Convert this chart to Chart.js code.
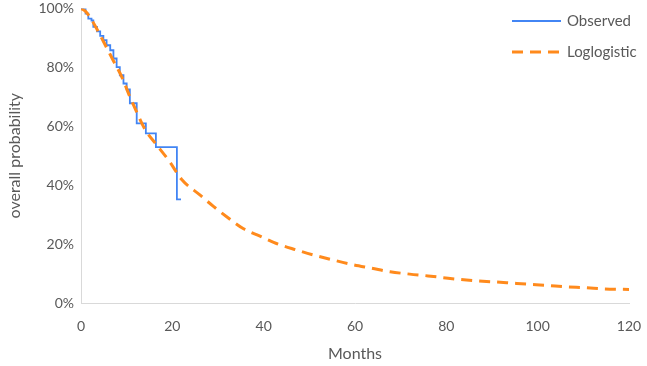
<!DOCTYPE html>
<html>
<head>
<meta charset="utf-8">
<script src="https://cdn.jsdelivr.net/npm/chart.js@4/dist/chart.umd.min.js"></script>
<style>
  body { margin: 0; background: #fff; }
  #wrap { width: 647px; height: 366px; }
</style>
</head>
<body>
<div id="wrap"><canvas id="survival__canvas" width="647" height="366"></canvas></div>
<script>
// Kaplan-Meier observed curve (months, % surviving)
const observedMonths = [0, 1.0, 1.6, 2.3, 2.7, 3.5, 4.2, 4.9, 5.6, 6.4, 7.1, 7.8, 8.5, 9.3, 10.0, 10.7, 12.2, 14.2, 16.4, 21.0, 21.9];
const observedValues = [100, 98.2, 96.5, 95.9, 93.7, 92.2, 90.7, 89.2, 87.5, 85.8, 83.0, 80.1, 77.3, 74.5, 72.5, 67.8, 61.0, 57.6, 52.9, 35.2, 35.2];

// Loglogistic fitted curve
const fitMonths = [0, 1, 2, 3.3, 5, 7, 9, 10.7, 12, 14, 16.6, 19.4, 22, 26.1, 29, 31.9, 35.5, 39.2, 42.8, 47.2, 50.9, 55.2, 59.3, 63.7, 67.7, 72, 76, 80.4, 84.4, 88.8, 93.2, 97.6, 102, 106, 110.4, 114.6, 120];
const fitValues = [100, 99, 97, 93.5, 88.5, 82.5, 76.5, 70, 65.5, 59, 53.6, 48, 42, 36.6, 32.8, 29.3, 25.3, 22.7, 20.2, 18, 16.3, 14.6, 13.1, 11.8, 10.6, 9.8, 9.2, 8.4, 7.8, 7.3, 6.9, 6.4, 6.0, 5.5, 5.2, 4.8, 4.6];

const seriesLabels = ["Observed", "Loglogistic"];
const xTicks = [0, 20, 40, 60, 80, 100, 120];
const yTicks = [0, 20, 40, 60, 80, 100];

const BLUE = "#4285f4";
const ORANGE = "#ff8a1c";
const TEXT = "#595959";
const FONT = "Lato, 'Open Sans', sans-serif";

function toPoints(xs, ys) {
  return xs.map((x, i) => ({ x: x, y: ys[i] }));
}

// legend sits inside the plot, top right, stacked
const sideLegend = {
  id: "sideLegend",
  afterDraw(chart) {
    const ctx = chart.ctx;
    const rows = [
      { y: 21, ds: chart.data.datasets[0] },
      { y: 52, ds: chart.data.datasets[1] },
    ];
    ctx.save();
    rows.forEach((row) => {
      ctx.beginPath();
      ctx.strokeStyle = row.ds.borderColor;
      ctx.lineWidth = row.ds.borderWidth;
      ctx.setLineDash(row.ds.borderDash || []);
      ctx.moveTo(512, row.y);
      ctx.lineTo(561, row.y);
      ctx.stroke();
      ctx.setLineDash([]);
      ctx.fillStyle = TEXT;
      ctx.font = "15px " + FONT;
      ctx.textBaseline = "middle";
      ctx.textAlign = "left";
      ctx.fillText(row.ds.label, 567, row.y);
    });
    ctx.restore();
  },
};

const chart = new Chart(document.getElementById("survival__canvas").getContext("2d"), {
  type: "line",
  data: {
    datasets: [
      {
        label: seriesLabels[0],
        data: toPoints(observedMonths, observedValues),
        borderColor: BLUE,
        borderWidth: 1.8,
        stepped: "before",
        pointRadius: 0,
        fill: false,
        order: 1,
      },
      {
        label: seriesLabels[1],
        data: toPoints(fitMonths, fitValues),
        borderColor: ORANGE,
        borderWidth: 3,
        borderDash: [11, 7],
        cubicInterpolationMode: "monotone",
        pointRadius: 0,
        fill: false,
        order: 0,
      },
    ],
  },
  options: {
    responsive: false,
    animation: false,
    layout: { padding: { left: 0, top: 8, right: 18, bottom: 0 } },
    plugins: {
      legend: { display: false },
      tooltip: { enabled: false },
    },
    scales: {
      x: {
        type: "linear",
        min: 0,
        max: 120,
        afterBuildTicks: (scale) => { scale.ticks = xTicks.map((v) => ({ value: v })); },
        afterFit: (scale) => { scale.height = 63; },
        // tick marks are hidden (grid off) but their length still spaces the labels
        grid: { display: false, drawTicks: true, tickLength: 15 },
        border: { display: true, color: "#d9d9d9", width: 1 },
        ticks: { color: TEXT, font: { family: FONT, size: 14 }, padding: 0, maxRotation: 0 },
        title: { display: true, text: "Months", color: TEXT, font: { family: FONT, size: 16 }, padding: { top: 0, bottom: 3 } },
      },
      y: {
        min: 0,
        max: 100,
        afterBuildTicks: (scale) => { scale.ticks = yTicks.map((v) => ({ value: v })); },
        afterFit: (scale) => { scale.width = 81; },
        grid: { display: false, drawTicks: true, tickLength: 7 },
        border: { display: true, color: "#d9d9d9", width: 1 },
        ticks: { color: TEXT, font: { family: FONT, size: 14 }, padding: 0, callback: (v) => v + "%" },
        title: { display: true, text: "overall probability", color: TEXT, font: { family: FONT, size: 16 }, padding: { top: 5, bottom: 0 } },
      },
    },
  },
  plugins: [sideLegend],
});
</script>
</body>
</html>
